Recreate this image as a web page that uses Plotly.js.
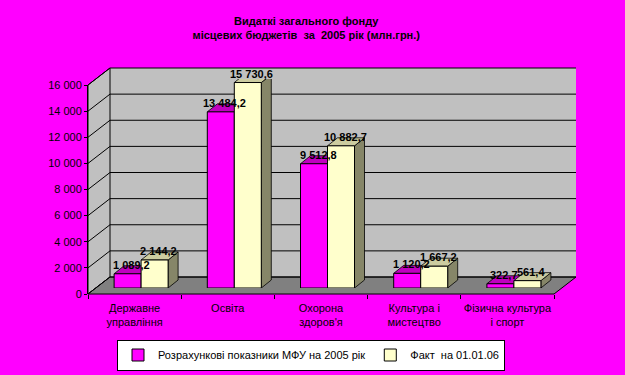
<!DOCTYPE html>
<html>
<head>
<meta charset="utf-8">
<script src="https://cdn.plot.ly/plotly-3.0.1.min.js"></script>
<style>html,body{margin:0;padding:0;background:#FF00FF;}#chart{width:625px;height:375px;}</style>
</head>
<body>
<div id="chart"></div>
<script>
// ---- data ----
const categories = ['Державне<br>управління', 'Освіта', 'Охорона<br>здоров\'я', 'Культура і<br>мистецтво', 'Фізична культура<br>і спорт'];
const planMFU = [1089.2, 13484.2, 9512.8, 1120.2, 322.7];
const factValues = [2144.2, 15730.6, 10882.7, 1667.2, 561.4];
const seriesNames = ['Розрахункові показники МФУ на 2005 рік', 'Факт  на 01.01.06'];
const yTicks = [0, 2000, 4000, 6000, 8000, 10000, 12000, 14000, 16000];
const chartTitle = 'Видаткі загального фонду<br>місцевих бюджетів  за  2005 рік (млн.грн.)';

// ---- geometry / style ----
const W = 625, H = 375;
const FL = 88, FR = 554, FB = 294, FT = 85;   // front plane of plot (px)
const YMAX = 16000;
const DX = 22, DY = 17;                        // wall depth (px)
const BPX = 6.5, BPY = 6;                      // bar plane offset (px)
const BDX = 10, BDY = 8;                       // bar depth (px)
const BWPX = 27;                               // bar width (px)
const FONT = 'Liberation Sans, Arial, sans-serif';
const fx = p => p / W, fy = p => 1 - p / H;
const nCat = categories.length;
const pxPerCat = (FR - FL) / nCat;
const pxPerVal = (FB - FT) / YMAX;
const w = BWPX / pxPerCat;
const dxD = BDX / pxPerCat, dyD = BDY / pxPerVal;
const idx = categories.map((c, i) => i);

const colors = {mag: '#FF00FF', magTop: '#C000C0', magSide: '#800080', yel: '#FFFFCC', yelTop: '#CCCCA0', yelSide: '#868668'};

function fmt(v) {
  const s = v.toFixed(1).split('.');
  return s[0].replace(/\B(?=(\d{3})+(?!\d))/g, ' ') + ',' + s[1];
}
function ppath(pts) {
  return 'M' + pts.map(p => fx(p[0]) + ',' + fy(p[1])).join('L') + 'Z';
}

const shapes = [];
// back wall
shapes.push({type: 'path', xref: 'paper', yref: 'paper', layer: 'below', line: {width: 0},
  fillcolor: '#C0C0C0', path: ppath([[FL + DX, FT - DY], [FR + DX, FT - DY], [FR + DX, FB - DY], [FL + DX, FB - DY]])});
// left wall
shapes.push({type: 'path', xref: 'paper', yref: 'paper', layer: 'below', line: {color: '#000', width: 1},
  fillcolor: '#C0C0C0', path: ppath([[FL, FB], [FL + DX, FB - DY], [FL + DX, FT - DY], [FL, FT]])});
// floor
shapes.push({type: 'path', xref: 'paper', yref: 'paper', layer: 'below', line: {color: '#000', width: 1},
  fillcolor: '#808080', path: ppath([[FL, FB], [FR, FB], [FR + DX, FB - DY], [FL + DX, FB - DY]])});
// gridlines
yTicks.forEach(v => {
  const yf = FB - v * pxPerVal;
  shapes.push({type: 'path', xref: 'paper', yref: 'paper', layer: 'below', line: {color: '#000', width: 1},
    path: 'M' + fx(FL) + ',' + fy(yf) + 'L' + fx(FL + DX) + ',' + fy(yf - DY) + 'L' + fx(FR + DX) + ',' + fy(yf - DY)});
});
// 3D faces of bars
function faces(L, v, topC, sideC) {
  const R = L + w;
  const ln = {color: '#000', width: 0.8};
  shapes.push({type: 'path', xref: 'x2', yref: 'y2', layer: 'below', line: ln, fillcolor: sideC,
    path: `M${R},0L${R},${v}L${R + dxD},${v + dyD}L${R + dxD},${dyD}Z`});
  shapes.push({type: 'path', xref: 'x2', yref: 'y2', layer: 'below', line: ln, fillcolor: topC,
    path: `M${L},${v}L${R},${v}L${R + dxD},${v + dyD}L${L + dxD},${v + dyD}Z`});
}
idx.forEach(i => {
  faces(i - w, planMFU[i], colors.magTop, colors.magSide);
  faces(i, factValues[i], colors.yelTop, colors.yelSide);
});

// data labels
const annotations = [];
idx.forEach(i => {
  [[planMFU[i], i - w / 2], [factValues[i], i + w / 2]].forEach(([v, x]) => {
    annotations.push({xref: 'x2', yref: 'y2', x: x, y: v, text: fmt(v), showarrow: false,
      xshift: 4, yshift: 9, yanchor: 'middle', xanchor: 'center',
      font: {family: FONT, size: 11, color: '#000', weight: 'bold'}});
  });
});

const traces = [
  {type: 'bar', name: seriesNames[0], x: idx, y: planMFU, xaxis: 'x2', yaxis: 'y2',
   width: w, offset: -w, marker: {color: colors.mag, line: {color: '#000', width: 1}}, hoverinfo: 'skip'},
  {type: 'bar', name: seriesNames[1], x: idx, y: factValues, xaxis: 'x2', yaxis: 'y2',
   width: w, offset: 0, marker: {color: colors.yel, line: {color: '#000', width: 1}}, hoverinfo: 'skip'},
  {type: 'scatter', x: [null], y: [null], xaxis: 'x', yaxis: 'y', showlegend: false, hoverinfo: 'skip'}
];

const layout = {
  width: W, height: H,
  margin: {l: 0, r: 0, t: 0, b: 0},
  paper_bgcolor: '#FF00FF', plot_bgcolor: 'rgba(0,0,0,0)',
  separators: ', ',
  barmode: 'overlay',
  font: {family: FONT, size: 11, color: '#000'},
  title: {text: chartTitle, x: 0.49, xanchor: 'center', y: 1 - 25 / H, yanchor: 'top',
    font: {family: FONT, size: 11, color: '#000', weight: 'bold'}},
  xaxis: {domain: [fx(FL), fx(FR)], range: [-0.5, nCat - 0.5], anchor: 'y', type: 'linear',
    tickmode: 'array', tickvals: idx, ticktext: categories, ticks: '', showline: false, showgrid: false, zeroline: false,
    minor: {tick0: -0.5, dtick: 1, ticks: 'outside', ticklen: 4, tickcolor: '#000', showgrid: false},
    tickfont: {family: FONT, size: 11, color: '#000'}, ticklabelstandoff: 6, automargin: false, fixedrange: true},
  yaxis: {domain: [fy(FB), fy(FT)], range: [0, YMAX], anchor: 'x', tickmode: 'array', tickvals: yTicks,
    tickformat: ',d', ticks: 'outside', ticklen: 3, tickcolor: '#000', showline: true, linecolor: '#000', linewidth: 1,
    showgrid: false, zeroline: false, tickfont: {family: FONT, size: 11, color: '#000'}, automargin: false, fixedrange: true},
  xaxis2: {domain: [fx(FL + BPX), fx(FR + BPX)], range: [-0.5, nCat - 0.5], anchor: 'y2', visible: false, fixedrange: true},
  yaxis2: {domain: [fy(FB - BPY), fy(FT - BPY)], range: [0, YMAX], anchor: 'x2', visible: false, fixedrange: true},
  shapes: shapes,
  annotations: annotations,
  showlegend: true,
  legend: {orientation: 'h', x: 311 / W, xanchor: 'center', y: fy(355), yanchor: 'middle',
    bgcolor: '#FFFFFF', bordercolor: '#000', borderwidth: 1, font: {family: FONT, size: 11, color: '#000'},
    traceorder: 'normal', itemwidth: 30}
};

Plotly.newPlot('chart', traces, layout, {displayModeBar: false, staticPlot: true});
</script>
</body>
</html>
